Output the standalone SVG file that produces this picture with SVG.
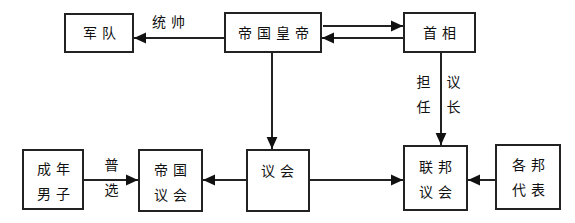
<svg xmlns="http://www.w3.org/2000/svg" width="575" height="223" viewBox="0 0 575 223">
<style>
.box{fill:#fff;stroke:#222;stroke-width:2}
.t{font-family:"Noto Sans CJK SC","Noto Sans",sans-serif;font-size:14px;fill:#111;text-anchor:middle;letter-spacing:5px}
.l{fill:none;stroke:#222;stroke-width:2}
</style>
<defs>
<marker id="ah" viewBox="0 0 10 10" refX="10" refY="5" markerWidth="5" markerHeight="5" orient="auto" markerUnits="userSpaceOnUse"><path d="M0,0L10,5L0,10z" fill="#111"/></marker>
<marker id="a" viewBox="0 0 10 10" refX="10" refY="5" markerWidth="12" markerHeight="12" markerUnits="userSpaceOnUse" orient="auto"><path d="M0,0.5L10,5L0,9.5z" fill="#111"/></marker>
</defs>
<rect width="575" height="223" fill="#fff"/>
<g id="connectors">
<line class="l" x1="225" y1="38" x2="134" y2="38" marker-end="url(#a)"/>
<line class="l" x1="323" y1="26" x2="403" y2="26" marker-end="url(#a)"/>
<line class="l" x1="404" y1="38" x2="322" y2="38" marker-end="url(#a)"/>
<line class="l" x1="272" y1="52" x2="272" y2="149" marker-end="url(#a)"/>
<line class="l" x1="441" y1="52" x2="441" y2="145" marker-end="url(#a)"/>
<line class="l" x1="83" y1="180" x2="138" y2="180" marker-end="url(#a)"/>
<line class="l" x1="247" y1="180" x2="203" y2="180" marker-end="url(#a)"/>
<line class="l" x1="309" y1="180" x2="403" y2="180" marker-end="url(#a)"/>
<line class="l" x1="496" y1="180" x2="468" y2="180" marker-end="url(#a)"/>
<text class="t" x="171" y="27">统帅</text>
<text class="t" x="426" y="87">担</text>
<text class="t" x="426" y="112">任</text>
<text class="t" x="456" y="87">议</text>
<text class="t" x="456" y="112">长</text>
<text class="t" x="114" y="170">普</text>
<text class="t" x="114" y="195">选</text>
</g>
<g id="jundui"><rect class="box" x="65" y="14" width="68" height="38"/><text class="t" x="102" y="38">军队</text></g>
<g id="huangdi"><rect class="box" x="225" y="13" width="96" height="39"/><text class="t" x="276" y="38">帝国皇帝</text></g>
<g id="shouxiang"><rect class="box" x="404" y="13" width="71" height="39"/><text class="t" x="442" y="38">首相</text></g>
<g id="chengnian"><rect class="box" x="23" y="150" width="60" height="59"/><text class="t" x="56" y="174">成年</text><text class="t" x="56" y="199">男子</text></g>
<g id="diguoyihui"><rect class="box" x="139" y="150" width="63" height="61"/><text class="t" x="173" y="175">帝国</text><text class="t" x="173" y="200">议会</text></g>
<g id="yihui"><rect class="box" x="247" y="150" width="62" height="61"/><text class="t" x="280" y="176">议会</text></g>
<g id="lianbang"><rect class="box" x="404" y="146" width="63" height="64"/><text class="t" x="438" y="172">联邦</text><text class="t" x="438" y="197">议会</text></g>
<g id="gebang"><rect class="box" x="496" y="145" width="64" height="64"/><text class="t" x="531" y="170">各邦</text><text class="t" x="531" y="195">代表</text></g>
</svg>
